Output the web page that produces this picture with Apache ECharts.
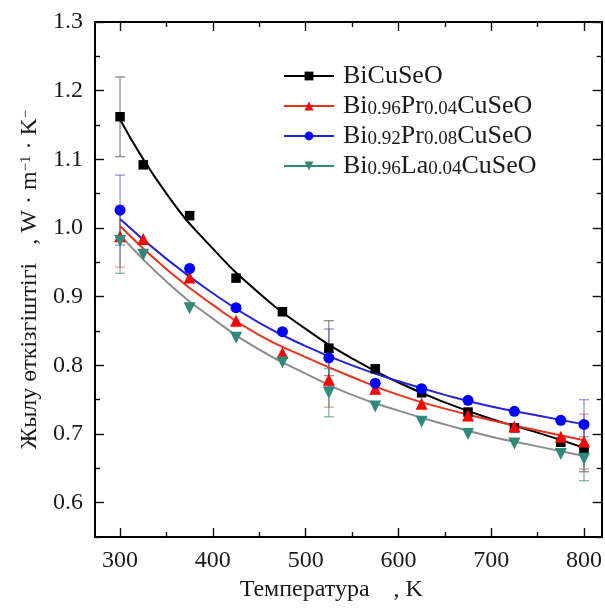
<!DOCTYPE html>
<html>
<head>
<meta charset="utf-8">
<script src="https://cdn.jsdelivr.net/npm/echarts@6/dist/echarts.min.js"></script>
<style>
  html, body { margin: 0; padding: 0; background: #ffffff; }
  #chart { width: 605px; height: 609px; }
</style>
</head>
<body>
<div id="chart"></div>
<script>
// Thermal conductivity (W·m⁻¹·K⁻¹) against temperature (K), four compositions.
const tempBi   = [300, 325, 375, 425, 475, 525, 575, 625, 675, 725, 775, 800];
const kappaBi  = [1.162, 1.092, 1.018, 0.927, 0.878, 0.825, 0.795, 0.760, 0.732, 0.709, 0.688, 0.678];
const tempPr4  = [300, 325, 375, 425, 475, 525, 575, 625, 675, 725, 775, 800];
const kappaPr4 = [0.988, 0.984, 0.928, 0.865, 0.818, 0.779, 0.766, 0.744, 0.727, 0.711, 0.696, 0.689];
const tempPr8  = [300, 375, 425, 475, 525, 575, 625, 675, 725, 775, 800];
const kappaPr8 = [1.026, 0.941, 0.884, 0.849, 0.811, 0.774, 0.766, 0.749, 0.733, 0.720, 0.714];
const tempLa   = [300, 325, 375, 425, 475, 525, 575, 625, 675, 725, 775, 800];
const kappaLa  = [0.981, 0.961, 0.883, 0.840, 0.804, 0.760, 0.740, 0.718, 0.700, 0.686, 0.671, 0.664];

// Fitted trend curves, sampled along temperature
const fitTemp = [300, 350, 400, 450, 500, 550, 600, 650, 700, 750, 800];
const fitBi   = [1.158, 1.050, 0.970, 0.905, 0.853, 0.810, 0.775, 0.746, 0.722, 0.702, 0.680];
const fitPr4  = [1.003, 0.940, 0.888, 0.844, 0.812, 0.783, 0.757, 0.737, 0.720, 0.705, 0.691];
const fitPr8  = [1.013, 0.955, 0.905, 0.862, 0.828, 0.800, 0.777, 0.757, 0.740, 0.727, 0.714];
const fitLa   = [0.990, 0.922, 0.868, 0.823, 0.788, 0.757, 0.734, 0.714, 0.696, 0.682, 0.668];

// Error bar half-widths at selected temperatures
const errTemp = [300, 525, 800];
const errBi   = [0.058, 0.040, 0.033];
const errPr4  = [0.045, 0.040, 0.040];
const errPr8  = [0.051, 0.042, 0.036];
const errLa   = [0.047, 0.035, 0.032];

// Axis ticks
const xMajor = [300, 400, 500, 600, 700, 800];
const xMinor = [350, 450, 550, 650, 750];
const yMajor = [0.6, 0.7, 0.8, 0.9, 1.0, 1.1, 1.2, 1.3];
const yMinor = [0.55, 0.65, 0.75, 0.85, 0.95, 1.05, 1.15, 1.25];

const FONT = "'Liberation Serif', 'Times New Roman', serif";
const C_BI = '#000000', C_PR4 = '#ff0000', C_PR8 = '#0000ff', C_LA = '#2f8a7c';
const L_PR4 = '#e8321e', L_PR8 = '#2424d8', L_LA = '#8c8c8c';

const zip = (xs, ys) => xs.map((x, i) => [x, ys[i]]);

function errData(temps, values, errTs, errs) {
  return errTs.map((t, i) => [t, values[temps.indexOf(t)], errs[i]]);
}

function errorSeries(data, color) {
  return {
    type: 'custom',
    z: 1,
    silent: true,
    data: data,
    renderItem: function (params, api) {
      const x = api.value(0), y = api.value(1), e = api.value(2);
      const top = api.coord([x, y + e]);
      const bot = api.coord([x, y - e]);
      const hw = 5;
      const style = { stroke: color, lineWidth: 1.4 };
      return {
        type: 'group',
        children: [
          { type: 'line', shape: { x1: top[0], y1: top[1], x2: bot[0], y2: bot[1] }, style: style },
          { type: 'line', shape: { x1: top[0] - hw, y1: top[1], x2: top[0] + hw, y2: top[1] }, style: style },
          { type: 'line', shape: { x1: bot[0] - hw, y1: bot[1], x2: bot[0] + hw, y2: bot[1] }, style: style }
        ]
      };
    }
  };
}

function fitSeries(name, data, lineColor, markColor, symbol, rotate) {
  return {
    name: name, type: 'line', data: data, smooth: 0.5,
    symbol: symbol, symbolRotate: rotate || 0, showSymbol: false,
    lineStyle: { color: lineColor, width: 2 },
    itemStyle: { color: markColor },
    z: 2, silent: true
  };
}

function markSeries(name, data, color, symbol, size, rotate) {
  return {
    name: name, type: 'scatter', data: data,
    symbol: symbol, symbolSize: size, symbolRotate: rotate || 0,
    itemStyle: { color: color, opacity: 1 },
    z: 3, silent: true
  };
}

const N_BI = 'BiCuSeO', N_PR4 = 'Bi0.96Pr0.04CuSeO', N_PR8 = 'Bi0.92Pr0.08CuSeO', N_LA = 'Bi0.96La0.04CuSeO';
const legendRich = {
  [N_BI]: '{m|BiCuSeO}',
  [N_PR4]: '{m|Bi}{s|0.96}{m|Pr}{s|0.04}{m|CuSeO}',
  [N_PR8]: '{m|Bi}{s|0.92}{m|Pr}{s|0.08}{m|CuSeO}',
  [N_LA]: '{m|Bi}{s|0.96}{m|La}{s|0.04}{m|CuSeO}'
};

const tickStyle = { color: '#111', width: 1.4 };
const axisLineStyle = { color: '#000', width: 2 };

function xAxisDef(position, values, len, withLine, withLabel) {
  return {
    type: 'value', min: 273, max: 819, position: position,
    axisLine: { show: withLine, onZero: false, lineStyle: axisLineStyle },
    axisTick: { show: true, inside: true, length: len, customValues: values, lineStyle: tickStyle },
    axisLabel: withLabel
      ? { show: true, customValues: values, margin: 12, fontFamily: FONT, fontSize: 24, color: '#1a1a1a' }
      : { show: false },
    splitLine: { show: false }
  };
}

function yAxisDef(position, values, len, withLine, withLabel) {
  return {
    type: 'value', min: 0.55, max: 1.3, position: position,
    axisLine: { show: withLine, onZero: false, lineStyle: axisLineStyle },
    axisTick: { show: true, inside: true, length: len, customValues: values, lineStyle: tickStyle },
    axisLabel: withLabel
      ? { show: true, customValues: values, margin: 12, fontFamily: FONT, fontSize: 24, color: '#1a1a1a',
          formatter: v => v.toFixed(1) }
      : { show: false },
    splitLine: { show: false }
  };
}

const xMain = xAxisDef('bottom', xMajor, 9, true, true);
xMain.name = '{a|Температура}{a|    , K}';
xMain.nameLocation = 'middle';
xMain.nameGap = 40;
xMain.nameTextStyle = {
  padding: [0, 34, 0, 0],
  rich: { a: { fontFamily: FONT, fontSize: 24, color: '#1a1a1a', lineHeight: 26 } }
};

const yMain = yAxisDef('left', yMajor, 9, true, true);
yMain.name = '{a|Жылу өткізгіштігі}{a|   , W · m}{p|−1}{a| · K}{p|−}';
yMain.nameLocation = 'middle';
yMain.nameRotate = 90;
yMain.nameGap = 48;
yMain.nameTextStyle = {
  rich: {
    a: { fontFamily: FONT, fontSize: 24, color: '#1a1a1a', lineHeight: 26, verticalAlign: 'top' },
    p: { fontFamily: FONT, fontSize: 15, color: '#1a1a1a', lineHeight: 12, verticalAlign: 'top' }
  }
};

const option = {
  backgroundColor: '#ffffff',
  animation: false,
  grid: { left: 95, right: 1, top: 22, bottom: 72, containLabel: false },
  xAxis: [
    xMain,
    xAxisDef('bottom', xMinor, 5, false, false),
    xAxisDef('top', xMajor, 9, true, false),
    xAxisDef('top', xMinor, 5, false, false)
  ],
  yAxis: [
    yMain,
    yAxisDef('left', yMinor, 5, false, false),
    yAxisDef('right', yMajor, 9, true, false),
    yAxisDef('right', yMinor, 5, false, false)
  ],
  legend: {
    orient: 'vertical', left: 278, top: 58,
    itemWidth: 50, itemHeight: 11, itemGap: 4,
    data: [
      { name: N_BI },
      { name: N_PR4 },
      { name: N_PR8 },
      { name: N_LA, lineStyle: { color: C_LA } }
    ],
    formatter: name => legendRich[name],
    textStyle: {
      padding: [0, 0, 0, 4],
      rich: {
        m: { fontFamily: FONT, fontSize: 26, color: '#1a1a1a', lineHeight: 26, verticalAlign: 'top' },
        s: { fontFamily: FONT, fontSize: 19, color: '#1a1a1a', lineHeight: 14, verticalAlign: 'bottom' }
      }
    },
    selectedMode: false
  },
  series: [
    fitSeries(N_BI, zip(fitTemp, fitBi), C_BI, C_BI, 'rect'),
    fitSeries(N_PR4, zip(fitTemp, fitPr4), L_PR4, C_PR4, 'triangle'),
    fitSeries(N_PR8, zip(fitTemp, fitPr8), L_PR8, C_PR8, 'circle'),
    fitSeries(N_LA, zip(fitTemp, fitLa), L_LA, C_LA, 'triangle', 180),
    errorSeries(errData(tempBi, kappaBi, errTemp, errBi), 'rgba(110,110,110,0.75)'),
    errorSeries(errData(tempPr4, kappaPr4, errTemp, errPr4), 'rgba(200,90,90,0.55)'),
    errorSeries(errData(tempPr8, kappaPr8, errTemp, errPr8), 'rgba(90,90,190,0.6)'),
    errorSeries(errData(tempLa, kappaLa, errTemp, errLa), 'rgba(70,130,120,0.6)'),
    markSeries(N_BI, zip(tempBi, kappaBi), C_BI, 'rect', 9.5),
    markSeries(N_PR4, zip(tempPr4, kappaPr4), C_PR4, 'triangle', 12),
    markSeries(N_PR8, zip(tempPr8, kappaPr8), C_PR8, 'circle', 11),
    markSeries(N_LA, zip(tempLa, kappaLa), C_LA, 'triangle', 12, 180)
  ]
};

const chart = echarts.init(document.getElementById('chart'), null, { renderer: 'canvas' });
chart.setOption(option);
</script>
</body>
</html>
